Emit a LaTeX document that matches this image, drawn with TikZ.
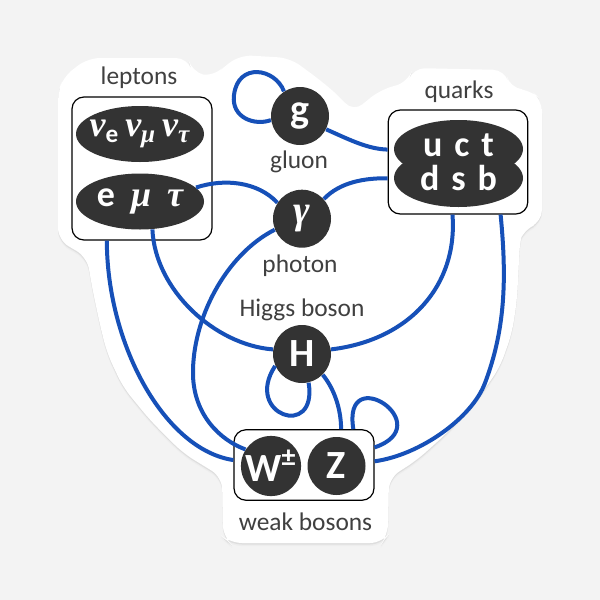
\documentclass[tikz,border=0pt]{standalone}
\usepackage{fontspec}
\setmainfont{Carlito}
\newfontfamily\greekserif{Liberation Serif}
\newcommand{\greek}{\greekserif\bfseries\itshape}
\usetikzlibrary{shapes.geometric}
\definecolor{linkblue}{HTML}{1650B8}
\definecolor{darkfill}{HTML}{333333}
\definecolor{labelgray}{HTML}{404040}
\definecolor{bggray}{HTML}{F3F3F3}

\begin{document}
\begin{tikzpicture}[x=0.5pt,y=-0.5pt]
	\tikzstyle{every node}=[inner sep=0pt]
	\tikzstyle{particle}=[circle,fill=darkfill,text=white,minimum size=29pt,font=\bfseries\fontsize{20}{20}\selectfont]
	\tikzstyle{flavour}=[ellipse,fill=darkfill,minimum width=64pt,minimum height=28pt]
	\tikzstyle{flavourtext}=[text=white,font=\bfseries\fontsize{18}{18}\selectfont]
	\tikzstyle{groupbox}=[draw=black,line width=0.6pt,rounded corners=6pt]
	\tikzstyle{caption}=[text=labelgray,font=\fontsize{12.7}{13}\selectfont]
	\tikzstyle{link}=[draw=linkblue,line width=2pt]

	%% background and sticker
	\fill[bggray] (0,0) rectangle (600,600);
	\useasboundingbox (0,0) rectangle (600,600);
	\foreach \dy/\col in {3/black!7,1.5/black!13,0/white}
		\fill[fill=\col,rounded corners=6pt,shift={(0,\dy)}] (58,110) -- (58,240) -- (87,257) -- (92,287) -- (100,325) -- (107,353) -- (123,387) -- (150,420) -- (183,453) -- (222,477) -- (223,537) -- (230,543) -- (382,543) -- (388,535) -- (389,478) -- (417,460) -- (447,433) -- (477,400) -- (500,367) -- (512,333) -- (517,300) -- (520,240) -- (523,230) -- (542,222) -- (542,100) -- (530,90) -- (510,88) -- (505,70) -- (413,68) -- (408,82) -- (380,90) -- (353,112) -- (340,97) -- (320,80) -- (290,58) -- (240,55) -- (220,70) -- (213,77) -- (192,72) -- (188,58) -- (88,58) -- (63,77) -- (58,93) -- cycle;

	%% leptons
	\node[groupbox,minimum width=70pt,minimum height=71.5pt] (lbox) at (142,168.5) {};
	\node[flavour] (nu) at (140,134) {};
	\node[flavourtext] (nutxt) at (nu) {{\greek ν}\textsubscript{e}\hspace{3pt}{\greek ν\textsubscript{μ}}\hspace{3pt}{\greek ν\textsubscript{τ}}};
	\node[flavour] (emt) at (140,201.5) {};
	\node[flavourtext] (emttxt) at (emt) {e\hspace{8pt}{\greek μ}\hspace{8pt}{\greek τ}};
	\node[caption] (ltxt) at (139,78) {leptons};

	%% quarks
	\node[groupbox,minimum width=69.8pt,minimum height=52pt] (qbox) at (458,162) {};
	\node[flavour,minimum width=64.5pt,minimum height=29pt] (qup) at (458.5,149) {};
	\node[flavour,minimum width=64.5pt,minimum height=29pt] (qdown) at (458.5,178) {};
	\node[flavourtext] (uct) at (458.5,145) {u\hspace{6pt}c\hspace{6pt}t};
	\node[flavourtext] (dsb) at (458.5,178) {d\hspace{6pt}s\hspace{6pt}b};
	\node[caption] (qtxt) at (459,92) {quarks};

	%% bosons
	\node[particle] (g) at (300,116) {g};
	\node[caption] (gtxt) at (299,162) {gluon};
	\node[particle] (gamma) at (302,218.7) {\greek γ};
	\node[caption] (ptxt) at (300,266) {photon};
	\node[particle] (H) at (302,354) {H};
	\node[caption] (htxt) at (302,310) {Higgs boson};
	\node[groupbox,minimum width=70pt,minimum height=35.25pt] (wbox) at (304,465) {};
	\node[particle] (W) at (271,466) {W\textsuperscript{±}};
	\node[particle] (Z) at (336.5,466) {Z};
	\node[caption] (wtxt) at (305.5,522) {weak bosons};

	%% interactions
	\draw[link] (g.123) .. controls (275,68) and (238,62) .. (234,95) .. controls (231,118) and (255,126) .. (g.188);
	\draw[link] (g.-27) .. controls (350,140) and (368,149) .. (qbox.170);
	\draw[link] (emt.14) .. controls (225,178) and (258,182) .. (gamma.147);
	\draw[link] (gamma.42) .. controls (340,182) and (365,178) .. (qbox.193);
	\draw[link] (gamma.202) .. controls (225,255) and (192,320) .. (193,375) .. controls (194,415) and (220,440) .. (W.147);
	\draw[link] (emt.-66) .. controls (155,290) and (215,345) .. (H.171);
	\draw[link] (lbox.244) .. controls (107,345) and (165,450) .. (wbox.176);
	\draw[link] (H.9) .. controls (410,340) and (458,285) .. (qbox.264);
	\draw[link] (qbox.-51) .. controls (507,280) and (505,330) .. (485,383) .. controls (472,418) and (420,455) .. (wbox.3);
	\draw[link] (H.204) .. controls (243,415) and (318,440) .. (H.283);
	\draw[link] (H.-45) .. controls (335,390) and (341,410) .. (wbox.44);
	\draw[link] (wbox.36) .. controls (342,360) and (440,425) .. (wbox.14);

\end{tikzpicture}
\end{document}
